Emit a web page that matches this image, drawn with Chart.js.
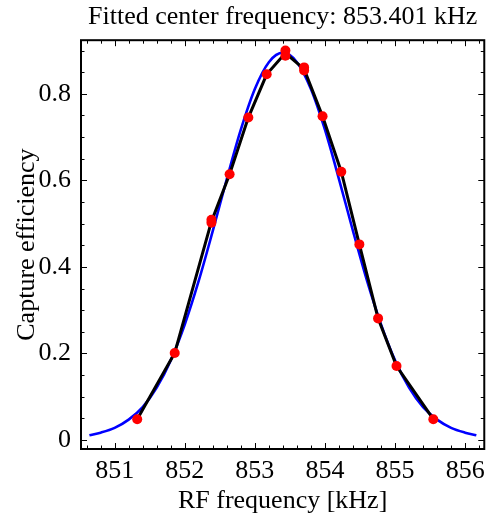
<!DOCTYPE html>
<html>
<head>
<meta charset="utf-8">
<script src="https://cdn.jsdelivr.net/npm/chart.js@4/dist/chart.umd.min.js"></script>
<style>
  html, body { margin: 0; padding: 0; background: #fff; }
  #wrap { width: 492px; height: 517px; }
</style>
</head>
<body>
<div id="wrap"><canvas id="c" width="492" height="517"></canvas></div>
<script>
// Measured data (red points)
const dataFreq = [851.322, 851.857, 852.381, 852.381, 852.640, 852.907, 853.169, 853.436, 853.436, 853.703, 853.703, 853.966, 854.233, 854.491, 854.758, 855.021, 855.546];
const dataEff  = [0.048, 0.201, 0.502, 0.509, 0.614, 0.745, 0.845, 0.900, 0.888, 0.861, 0.854, 0.748, 0.620, 0.452, 0.281, 0.171, 0.048];

// Black line through mean values
const meanFreq = [851.322, 851.857, 852.381, 852.640, 852.907, 853.169, 853.436, 853.703, 853.966, 854.233, 854.491, 854.758, 855.021, 855.546];
const meanEff  = [0.048, 0.201, 0.505, 0.614, 0.745, 0.845, 0.894, 0.857, 0.748, 0.620, 0.452, 0.281, 0.171, 0.048];

// Blue fitted curve
const fitFreq = [850.64, 850.80, 851.00, 851.20, 851.40, 851.60, 851.80, 852.00, 852.20, 852.40, 852.60, 852.80, 853.00, 853.20, 853.40, 853.60, 853.80, 854.00, 854.20, 854.40, 854.60, 854.80, 855.00, 855.20, 855.40, 855.60, 855.80, 856.00, 856.16];
const fitEff  = [0.011, 0.017, 0.028, 0.047, 0.076, 0.121, 0.184, 0.267, 0.368, 0.483, 0.603, 0.717, 0.811, 0.873, 0.895, 0.873, 0.811, 0.717, 0.603, 0.483, 0.368, 0.267, 0.184, 0.121, 0.076, 0.047, 0.028, 0.017, 0.011];

const xMajor = [851, 852, 853, 854, 855, 856];
const yMajor = [0, 0.2, 0.4, 0.6, 0.8];
const xMinorStep = 0.2;
const yMinorStep = 0.05;

const titleText = 'Fitted center frequency: 853.401 kHz';
const xTitle = 'RF frequency [kHz]';
const yTitle = 'Capture efficiency';

const toXY = (xs, ys) => xs.map((x, i) => ({x: x, y: ys[i]}));
const serif = '"Liberation Serif", "Times New Roman", serif';

const framePlugin = {
  id: 'frame',
  afterDatasetsDraw(chart) {
    const {ctx, chartArea: a, scales: {x, y}} = chart;
    ctx.save();
    ctx.strokeStyle = '#000';
    ctx.lineWidth = 1;
    const major = 6, minor = 3.5;
    for (let v = 850.6; v <= 856.27; v += xMinorStep) {
      const vv = Math.round(v * 10) / 10;
      const isMaj = xMajor.some(m => Math.abs(m - vv) < 1e-6);
      const px = Math.round(x.getPixelForValue(vv)) + 0.5;
      const L = isMaj ? major : minor;
      ctx.beginPath();
      ctx.moveTo(px, a.bottom); ctx.lineTo(px, a.bottom - L);
      ctx.moveTo(px, a.top); ctx.lineTo(px, a.top + L);
      ctx.stroke();
    }
    for (let v = 0; v <= 0.92; v += yMinorStep) {
      const vv = Math.round(v * 100) / 100;
      const isMaj = yMajor.some(m => Math.abs(m - vv) < 1e-6);
      const py = Math.round(y.getPixelForValue(vv)) + 0.5;
      const L = isMaj ? major : minor;
      ctx.beginPath();
      ctx.moveTo(a.left, py); ctx.lineTo(a.left + L, py);
      ctx.moveTo(a.right, py); ctx.lineTo(a.right - L, py);
      ctx.stroke();
    }
    ctx.lineWidth = 2;
    ctx.strokeRect(a.left, a.top, a.right - a.left, a.bottom - a.top);
    ctx.restore();
  }
};

new Chart(document.getElementById('c'), {
  type: 'scatter',
  data: {
    datasets: [
      {
        label: 'data',
        data: toXY(dataFreq, dataEff),
        showLine: false,
        pointRadius: 5,
        pointBackgroundColor: '#ff0000',
        pointBorderWidth: 0,
        pointBorderColor: '#ff0000',
        order: 0
      },
      {
        label: 'mean',
        data: toXY(meanFreq, meanEff),
        showLine: true,
        borderColor: '#000000',
        borderWidth: 3,
        pointRadius: 0,
        tension: 0,
        order: 1
      },
      {
        label: 'fit',
        data: toXY(fitFreq, fitEff),
        showLine: true,
        borderColor: '#0000ff',
        borderWidth: 2.6,
        pointRadius: 0,
        cubicInterpolationMode: 'monotone',
        order: 2
      }
    ]
  },
  options: {
    responsive: false,
    animation: false,
    devicePixelRatio: 1,
    layout: { padding: { left: 0, right: 2, top: 0, bottom: 0 } },
    plugins: {
      legend: { display: false },
      tooltip: { enabled: false },
      title: {
        display: true,
        text: titleText,
        fullSize: false,
        color: '#000',
        font: { family: serif, size: 26, weight: 'normal', lineHeight: 1.2 },
        padding: { top: 2, bottom: 7 }
      }
    },
    scales: {
      x: {
        type: 'linear',
        position: 'bottom',
        min: 850.52,
        max: 856.273,
        grid: { display: false, drawTicks: false },
        border: { display: false },
        afterBuildTicks: s => { s.ticks = xMajor.map(v => ({value: v})); },
        afterFit: s => { s.height = 68; },
        ticks: {
          color: '#000',
          padding: 7,
          maxRotation: 0,
          autoSkip: false,
          font: { family: serif, size: 26 },
          callback: v => String(v)
        },
        title: {
          display: true,
          text: xTitle,
          color: '#000',
          font: { family: serif, size: 26, lineHeight: 1.2 },
          padding: { top: 0, bottom: 0 }
        }
      },
      y: {
        type: 'linear',
        position: 'left',
        min: -0.0208,
        max: 0.9238,
        grid: { display: false, drawTicks: false },
        border: { display: false },
        afterBuildTicks: s => { s.ticks = yMajor.map(v => ({value: v})); },
        afterFit: s => { s.width = 81; },
        ticks: {
          color: '#000',
          padding: 10,
          autoSkip: false,
          font: { family: serif, size: 26 },
          callback: v => String(Math.round(v * 10) / 10)
        },
        title: {
          display: true,
          text: yTitle,
          color: '#000',
          font: { family: serif, size: 26, lineHeight: 1.2 },
          padding: { top: 12, bottom: 0 }
        }
      }
    }
  },
  plugins: [framePlugin]
});
</script>
</body>
</html>
